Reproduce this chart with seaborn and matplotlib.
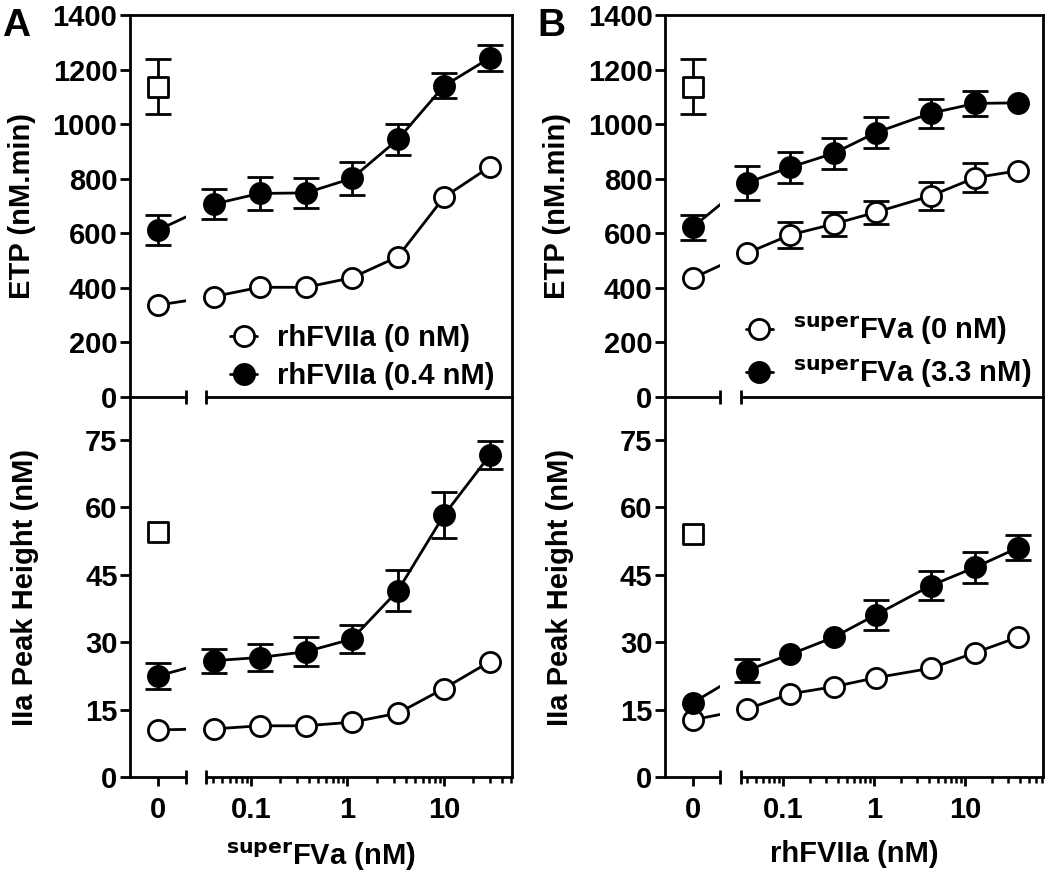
import numpy as np
import pandas as pd
import matplotlib
matplotlib.use("Agg")
import matplotlib.pyplot as plt
from matplotlib.patches import Rectangle
from matplotlib.lines import Line2D
from matplotlib.ticker import FixedLocator, FixedFormatter, NullFormatter
import seaborn as sns

# ---------------- data ----------------
A_x = [0, 0.041, 0.123, 0.37, 1.11, 3.33, 10, 30]
A_etp_open = [337, 368, 402, 402, 437, 514, 732, 844]
A_etp_open_err = [0, 0, 0, 0, 0, 0, 0, 0]
A_etp_fill = [612, 707, 746, 748, 801, 944, 1140, 1243]
A_etp_fill_err = [55, 54, 62, 55, 60, 58, 46, 47]
A_ph_open = [10.5, 10.7, 11.4, 11.4, 12.2, 14.2, 19.7, 25.7]
A_ph_open_err = [0, 0, 0, 0, 0, 0, 0, 0]
A_ph_fill = [22.5, 25.9, 26.6, 27.9, 30.7, 41.5, 58.3, 71.7]
A_ph_fill_err = [2.9, 2.7, 3.0, 3.2, 3.2, 4.6, 5.1, 3.1]

B_x = [0, 0.04, 0.12, 0.36, 1.05, 4.2, 13, 38]
B_etp_open = [435, 527, 594, 634, 677, 737, 804, 829]
B_etp_open_err = [0, 0, 49, 44, 42, 51, 54, 0]
B_etp_fill = [622, 785, 842, 893, 969, 1040, 1076, 1078]
B_etp_fill_err = [45, 62, 56, 57, 58, 53, 45, 0]
B_ph_open = [12.7, 15.1, 18.5, 20.1, 22.1, 24.2, 27.7, 31.1]
B_ph_open_err = [0, 0, 0, 0, 0, 0, 0, 0]
B_ph_fill = [16.5, 23.7, 27.3, 31.1, 36.1, 42.6, 46.7, 51.0]
B_ph_fill_err = [0, 2.6, 0, 0, 3.3, 3.2, 3.5, 2.8]

normal_etp = [1137]
normal_etp_err = [100]
normal_ph_A = [54.6]
normal_ph_B = [54.2]

A_labels = ["rhFVIIa (0 nM)", "rhFVIIa (0.4 nM)"]
B_labels = [r"$^{\mathrm{super}}$FVa (0 nM)", r"$^{\mathrm{super}}$FVa (3.3 nM)"]
A_xlabel = r"$^{\mathrm{super}}$FVa (nM)"
B_xlabel = "rhFVIIa (nM)"
etp_ylabel = "ETP (nM.min)"
ph_ylabel = "IIa Peak Height (nM)"
xtick_vals = [0, 0.1, 1, 10]
xtick_text = ["0", "0.1", "1", "10"]
etp_ticks = [0, 200, 400, 600, 800, 1000, 1200, 1400]
ph_ticks = [0, 15, 30, 45, 60, 75]

# ---------------- style ----------------
sns.set_theme(style="ticks")
plt.rcParams.update({
    "font.family": ["Liberation Sans", "DejaVu Sans"],
    "font.weight": "bold",
    "axes.labelweight": "bold",
    "font.size": 21,
    "mathtext.fontset": "custom",
    "mathtext.rm": "DejaVu Sans",
    "mathtext.it": "DejaVu Sans:italic",
    "mathtext.bf": "DejaVu Sans:bold",
    "axes.linewidth": 2.0,
    "axes.edgecolor": "black",
    "xtick.color": "black",
    "ytick.color": "black",
    "text.color": "black",
    "axes.labelcolor": "black",
})

W, H = 1050, 874
fig = plt.figure(figsize=(W / 100, H / 100), dpi=100)

MS = 14.5  # marker size (pt)


def make_scale(lo, hi, fz, fg):
    llo = np.log10(lo)
    D = np.log10(hi) - llo
    u = D / (1 - fz - fg)
    p0 = llo - (fg + fz / 2) * u
    k = (llo - p0) / lo

    def fwd(x):
        x = np.asarray(x, dtype=float)
        safe = np.where(x >= lo, x, lo)
        return np.where(x >= lo, np.log10(safe), p0 + k * x)

    def inv(p):
        p = np.asarray(p, dtype=float)
        pc = np.clip(p, -10, 10)
        return np.where(p >= llo, 10.0 ** pc, (p - p0) / k)

    xleft = ((llo - (fg + fz) * u) - p0) / k
    return fwd, inv, xleft


def setup_axis(ax, lo, hi, fz, fg, top):
    fwd, inv, xleft = make_scale(lo, hi, fz, fg)
    ax.set_xscale("function", functions=(fwd, inv))
    ax.set_xlim(xleft, hi)
    ax.set_facecolor("none")
    ax.tick_params(axis="y", direction="out", length=7, width=2, pad=2,
                   labelsize=21)
    if top:
        ax.spines["top"].set_visible(True)
        ax.tick_params(axis="x", which="both", length=0, labelbottom=False)
        ax.xaxis.set_major_locator(FixedLocator([]))
        ax.xaxis.set_minor_locator(FixedLocator([]))
    else:
        ax.spines["top"].set_visible(False)
        minors = [m * 10.0 ** e for e in range(-3, 3) for m in range(2, 10)]
        minors = [v for v in minors if lo <= v <= hi]
        ax.xaxis.set_major_locator(FixedLocator(xtick_vals))
        ax.xaxis.set_major_formatter(FixedFormatter(xtick_text))
        ax.xaxis.set_minor_locator(FixedLocator(minors))
        ax.xaxis.set_minor_formatter(NullFormatter())
        ax.tick_params(axis="x", which="major", direction="out", length=6.5,
                       width=2, pad=7, labelsize=21)
        ax.tick_params(axis="x", which="minor", direction="out", length=4,
                       width=1.8)
    for s in ["left", "right", "bottom"]:
        ax.spines[s].set_visible(True)
    # break gap: hides lines and spine, but not markers
    y0, y1 = (-0.03, 0.99) if top else (-0.03, 0.98)
    ax.add_patch(Rectangle((fz, y0), fg, y1 - y0, transform=ax.transAxes,
                           facecolor="white", edgecolor="none", zorder=2.6,
                           clip_on=False))
    ax.plot([fz, fz + fg], [0, 0], transform=ax.transAxes, ls="none",
            marker="|", ms=9.5, mew=2, color="black", clip_on=False, zorder=6)


def draw_series(ax, x, y, err, filled):
    df = pd.DataFrame({"x": x, "y": y, "err": err})
    sub = df[df["err"] > 0]
    if len(sub):
        ax.errorbar(sub["x"], sub["y"], yerr=sub["err"], fmt="none",
                    ecolor="black", elinewidth=2, capsize=9.5, capthick=2,
                    zorder=3.5)
    sns.lineplot(data=df, x="x", y="y", ax=ax, color="black", lw=2,
                 errorbar=None, sort=True, legend=False, zorder=2)
    sns.scatterplot(data=df, x="x", y="y", ax=ax, marker="o", s=MS ** 2,
                    facecolor="black" if filled else "white",
                    edgecolor="black", linewidth=2, zorder=4, legend=False)


def draw_normal(ax, y, err=None):
    df = pd.DataFrame({"x": [0] * len(y), "y": y})
    if err is not None:
        ax.errorbar(df["x"], df["y"], yerr=err, fmt="none", ecolor="black",
                    elinewidth=2, capsize=9.5, capthick=2, zorder=3.5)
    sns.scatterplot(data=df, x="x", y="y", ax=ax, marker="s", s=190,
                    facecolor="white", edgecolor="black", linewidth=2,
                    zorder=4, legend=False)


def fx(px):
    return px / W


def fy(py):
    return 1 - py / H


panels = [
    dict(left=130, right=512, lo=0.0342, hi=50.7, fz=56 / 382, fg=20 / 382,
         x=A_x, etp=(A_etp_open, A_etp_open_err, A_etp_fill, A_etp_fill_err),
         ph=(A_ph_open, A_ph_open_err, A_ph_fill, A_ph_fill_err),
         phn=normal_ph_A, labels=A_labels, xlabel=A_xlabel, letter="A",
         lx=2, leg_anchor=(0.985, -0.012)),
    dict(left=665, right=1043, lo=0.0346, hi=72, fz=55 / 378, fg=21 / 378,
         x=B_x, etp=(B_etp_open, B_etp_open_err, B_etp_fill, B_etp_fill_err),
         ph=(B_ph_open, B_ph_open_err, B_ph_fill, B_ph_fill_err),
         phn=normal_ph_B, labels=B_labels, xlabel=B_xlabel, letter="B",
         lx=537, leg_anchor=(1.0, -0.012)),
]

top_y, mid_y, bot_y = 15, 397, 777

for p in panels:
    l, r = fx(p["left"]), fx(p["right"])
    axT = fig.add_axes([l, fy(mid_y), r - l, fy(top_y) - fy(mid_y)])
    axB = fig.add_axes([l, fy(bot_y), r - l, fy(mid_y) - fy(bot_y)])

    # top: ETP
    o, oe, f, fe = p["etp"]
    draw_series(axT, p["x"], o, oe, False)
    draw_series(axT, p["x"], f, fe, True)
    draw_normal(axT, normal_etp, normal_etp_err)
    axT.set_ylim(0, 1400)
    axT.set_yticks(etp_ticks)
    setup_axis(axT, p["lo"], p["hi"], p["fz"], p["fg"], top=True)
    axT.set_xlabel("")
    axT.set_ylabel(etp_ylabel, fontsize=21, labelpad=12)

    # bottom: Peak height
    o, oe, f, fe = p["ph"]
    draw_series(axB, p["x"], o, oe, False)
    draw_series(axB, p["x"], f, fe, True)
    draw_normal(axB, p["phn"])
    axB.set_ylim(0, 84.6)
    axB.set_yticks(ph_ticks)
    setup_axis(axB, p["lo"], p["hi"], p["fz"], p["fg"], top=False)
    axB.set_xlabel(p["xlabel"], fontsize=21, labelpad=12)
    axB.set_ylabel(ph_ylabel, fontsize=21, labelpad=33)

    handles = [
        Line2D([], [], color="black", lw=2, marker="o", ms=MS, mew=2,
               mfc="white", mec="black"),
        Line2D([], [], color="black", lw=2, marker="o", ms=MS, mew=2,
               mfc="black", mec="black"),
    ]
    leg = axT.legend(handles=handles, labels=p["labels"], loc="lower right",
                     bbox_to_anchor=p["leg_anchor"], frameon=False,
                     fontsize=21, handlelength=0.9, handletextpad=0.7,
                     labelspacing=0.35, borderpad=0.2, borderaxespad=0.2)
    leg.set_zorder(7)

    fig.text(fx(p["lx"]), fy(8), p["letter"], fontsize=28, fontweight="bold",
             ha="left", va="top")

fig.savefig("out.png", dpi=100)
